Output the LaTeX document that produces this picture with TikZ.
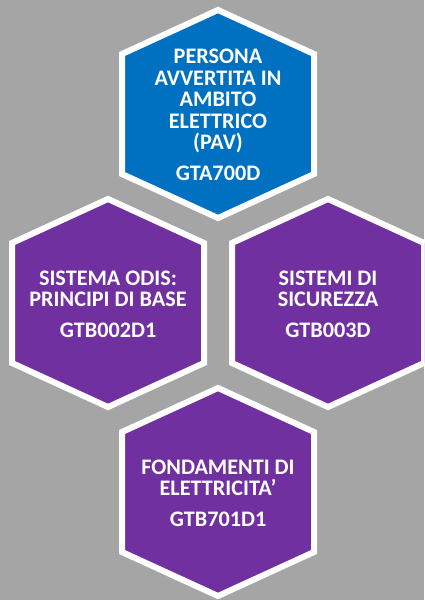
\documentclass[tikz,border=0pt]{standalone}
\usepackage{fontspec}
\setmainfont{Carlito}
\begin{document}
\begin{tikzpicture}[x=0.5pt,y=-0.5pt]
    % Local definitions
    \def\hw{96}   % half width of a cell
    \def\hh{104}  % half height of a cell
    \def\hc{60}   % height of the side corners

    % Styles
    \tikzstyle{hex border} = [draw=white,line width=3pt,line join=miter]
    \tikzstyle{hex text} = [text=white,align=center,inner sep=0pt,
        font={\fontsize{11.1}{10.75}\selectfont\bfseries}]
    \tikzset{hexcell/.pic={
        \filldraw[hex border,fill=#1] (0,-\hh) -- (\hw,-\hc) -- (\hw,\hc)
            -- (0,\hh) -- (-\hw,\hc) -- (-\hw,-\hc) -- cycle;
    }}

    % Colors
    \definecolor{back grey}{HTML}{A5A5A5}
    \definecolor{cell blue}{HTML}{0070C0}
    \definecolor{cell purple}{HTML}{7030A0}

    %%% Background
    \useasboundingbox (0,0) rectangle (424,600);
    \fill[back grey] (0,0) rectangle (424,600);
    \clip (0,0) rectangle (424,600);
    %%%

    %%% Cells
    \pic at (218,114) {hexcell=cell blue};
    \pic at (108,303) {hexcell=cell purple};
    \pic at (328,303) {hexcell=cell purple};
    \pic at (218,492) {hexcell=cell purple};

    \node[hex text] (pav) at (218,115)
        {PERSONA\\AVVERTITA IN\\AMBITO\\ELETTRICO\\(PAV)\\[4.5pt]GTA700D};
    \node[hex text] (odis) at (108,304)
        {SISTEMA ODIS:\\PRINCIPI DI BASE\\[4.5pt]GTB002D1};
    \node[hex text] (sicurezza) at (328,304)
        {SISTEMI DI\\SICUREZZA\\[4.5pt]GTB003D};
    \node[hex text] (elettricita) at (218,493)
        {FONDAMENTI DI\\ELETTRICITA’\\[4.5pt]GTB701D1};
    %%%
\end{tikzpicture}
\end{document}
